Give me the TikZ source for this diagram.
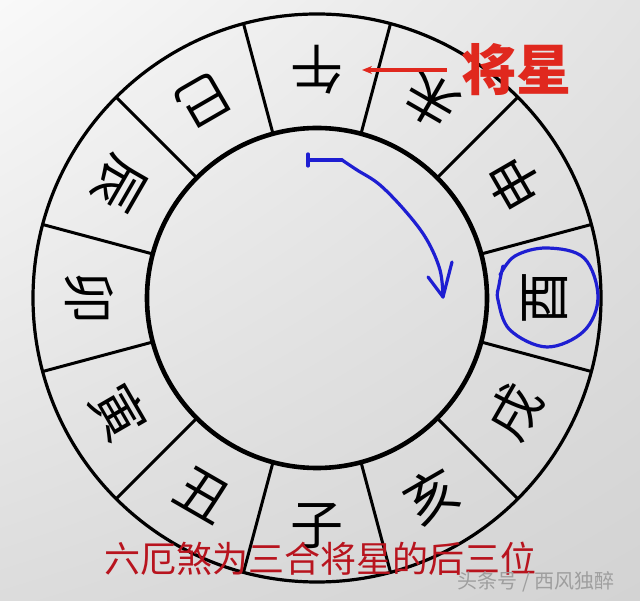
\documentclass[tikz,border=0pt]{standalone}
\usepackage{fontspec}
\newfontfamily\cjk{Noto Sans CJK SC}
\usetikzlibrary{arrows.meta,calc,shadings}
\definecolor{bgA}{HTML}{F9F9F9}
\definecolor{bgB}{HTML}{E3E3E3}
\definecolor{bgC}{HTML}{DCDCDC}
\definecolor{bgD}{HTML}{D3D3D3}
\definecolor{labred}{HTML}{E0281E}
\definecolor{darkred}{HTML}{B8141E}
\definecolor{penblue}{HTML}{1E1ED2}
\begin{document}
\begin{tikzpicture}[x=1pt,y=1pt,
  branch/.style={font=\cjk\fontsize{53}{53}\selectfont, inner sep=0pt, text=black},
  ringline/.style={line width=3.2pt, draw=black},
  innerline/.style={line width=4.6pt, draw=black},
  spoke/.style={line width=3pt, draw=black},
  bigred/.style={font=\cjk\bfseries\fontsize{55}{55}\selectfont, inner sep=0pt, text=labred},
  bottomtxt/.style={font=\cjk\fontsize{36}{36}\selectfont, inner sep=0pt},
  wmark/.style={font=\cjk\fontsize{20}{20}\selectfont, inner sep=0pt},
  pen/.style={draw=penblue, line width=3.2pt, line cap=round, line join=round}]
\useasboundingbox (0,0) rectangle (640,600);
\shade[upper left=bgA, upper right=bgB, lower left=bgC, lower right=bgD] (0,0) rectangle (640,600);
\coordinate (C) at (317,302);
% wheel
\draw[ringline] (C) circle (284);
\draw[innerline] (C) circle (170);
\foreach \k in {0,...,11}{
  \draw[spoke] ($(C)+(15+30*\k:170)$) -- ($(C)+(15+30*\k:284)$);
}
\foreach \c [count=\i from 0] in {子,丑,寅,卯,辰,巳,午,未,申,酉,戌,亥}{
  \pgfmathsetmacro\a{-90-30*\i}
  \node[branch, rotate=\a+90] (b\i) at ($(C)+(\a:228)$) {\c};
}
% red label
\node[bigred] (jx) at (516,530) {将星};
\coordinate (tip) at (362,530);
\draw[draw=labred, line width=3.4pt, -{Stealth[length=10pt,width=8pt]}] ([xshift=-14pt]jx.west) -- (tip);
% blue pen annotation
\coordinate (p0) at (308,440);
\coordinate (p1) at (342,440);
\coordinate (pend) at (443,303);
\draw[pen] (308,446) -- (308,434);
\draw[pen] (p0) -- (p1);
\draw[pen] plot[smooth, tension=0.6] coordinates {(p1) (357,430) (380,415) (407,387) (427,360) (440,330) (pend)};
\draw[pen] (428,323) -- (pend) -- (452,338);
\draw[pen] plot[smooth, tension=0.6] coordinates {(503,334) (499,315) (498,300) (510,270) (547,253) (584,269) (598,303) (584,342) (547,352) (515,344) (500,325)};
% bottom caption
\node[bottomtxt, text=darkred] (cap) at (320,41) {六厄煞为三合将星的后三位};
% watermark
\node[wmark, text=black!38] (wm) at (536,18) {头条号 / 西风独醉};
\end{tikzpicture}
\end{document}
